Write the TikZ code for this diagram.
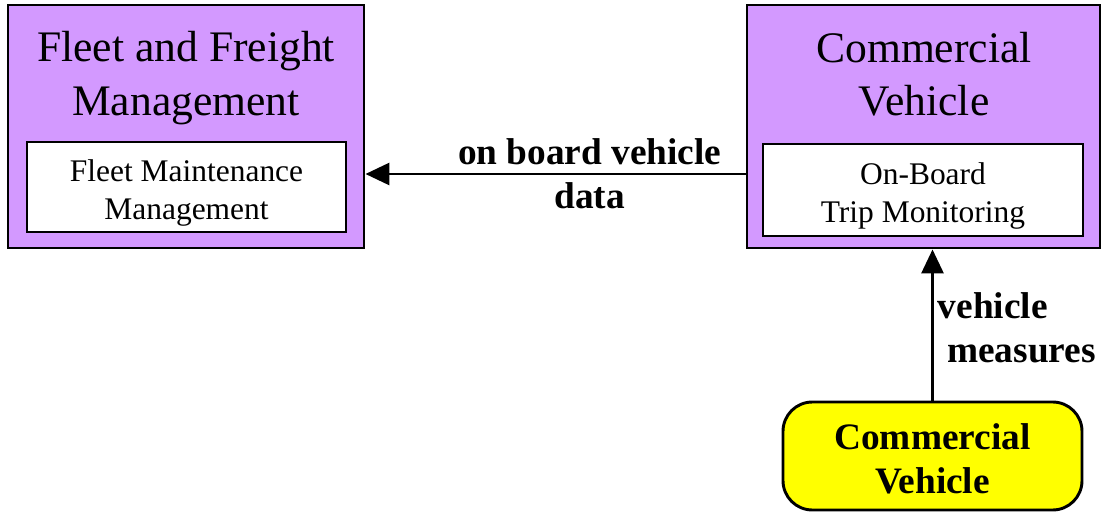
\documentclass[tikz,border=0pt]{standalone}
\usepackage{fontspec}
\setmainfont{Liberation Serif}
\usetikzlibrary{positioning, arrows.meta, calc}
\definecolor{sysviolet}{RGB}{211,153,255}
\definecolor{termyellow}{RGB}{255,255,0}
\newcommand{\topstrut}[1]{\rule{0pt}{#1}}

\begin{document}
\begin{tikzpicture}[x=0.75pt, y=-0.75pt, >={Triangle[length=18pt,width=16.5pt]},
  sys/.style={draw,line width=2.2pt,fill=sysviolet,inner sep=0pt},
  ttl/.style={align=center,font=\fontsize{32.7}{40}\selectfont,inner sep=0pt},
  pspec/.style={draw,line width=2.2pt,fill=white,align=center,font=\fontsize{23.6}{28.5}\selectfont,inner sep=0pt},
  term/.style={draw,line width=2.2pt,fill=termyellow,rounded corners=22pt,align=center,font=\fontsize{28}{33}\selectfont\bfseries,inner sep=0pt},
  flow/.style={->,line width=2.2pt},
  lbl/.style={font=\fontsize{28}{33}\selectfont\bfseries,inner sep=0pt,align=left}]
  \useasboundingbox (0,0) rectangle (1102,513);
  % subsystems
  \node[sys, minimum width=267pt, minimum height=182.25pt] (ffm) at (186,126.5) {};
  \node[ttl] (ffmt) at (186,78) {Fleet and Freight\\Management};
  \node[pspec, minimum width=239.25pt, minimum height=67.5pt] (fmm) at (186.5,187) {\topstrut{25pt}Fleet Maintenance\\Management};
  \node[sys, minimum width=264.75pt, minimum height=182.25pt] (cv) at (923.5,126.5) {};
  \node[ttl] (cvt) at (924,74) {Commercial\\Vehicle};
  \node[pspec, minimum width=240pt, minimum height=69pt] (otm) at (923,190) {\topstrut{25pt}On-Board\\Trip Monitoring};
  % terminator
  \node[term, minimum width=224.25pt, minimum height=81pt] (cvterm) at (932.5,456) {\topstrut{24pt}Commercial\\Vehicle};
  % flows
  \coordinate (fy) at (0,174);
  \draw[flow] (cv.west |- fy) -- (ffm.east |- fy)
    node[lbl, pos=0.41, align=center] (obvd) {on board vehicle\\data};
  \draw[flow] (cvterm.north) -- (cvterm.north |- cv.south)
    node[lbl, pos=0.48, anchor=west, xshift=3pt] (vm) {vehicle\\\hspace{0.25em}measures};
\end{tikzpicture}
\end{document}
